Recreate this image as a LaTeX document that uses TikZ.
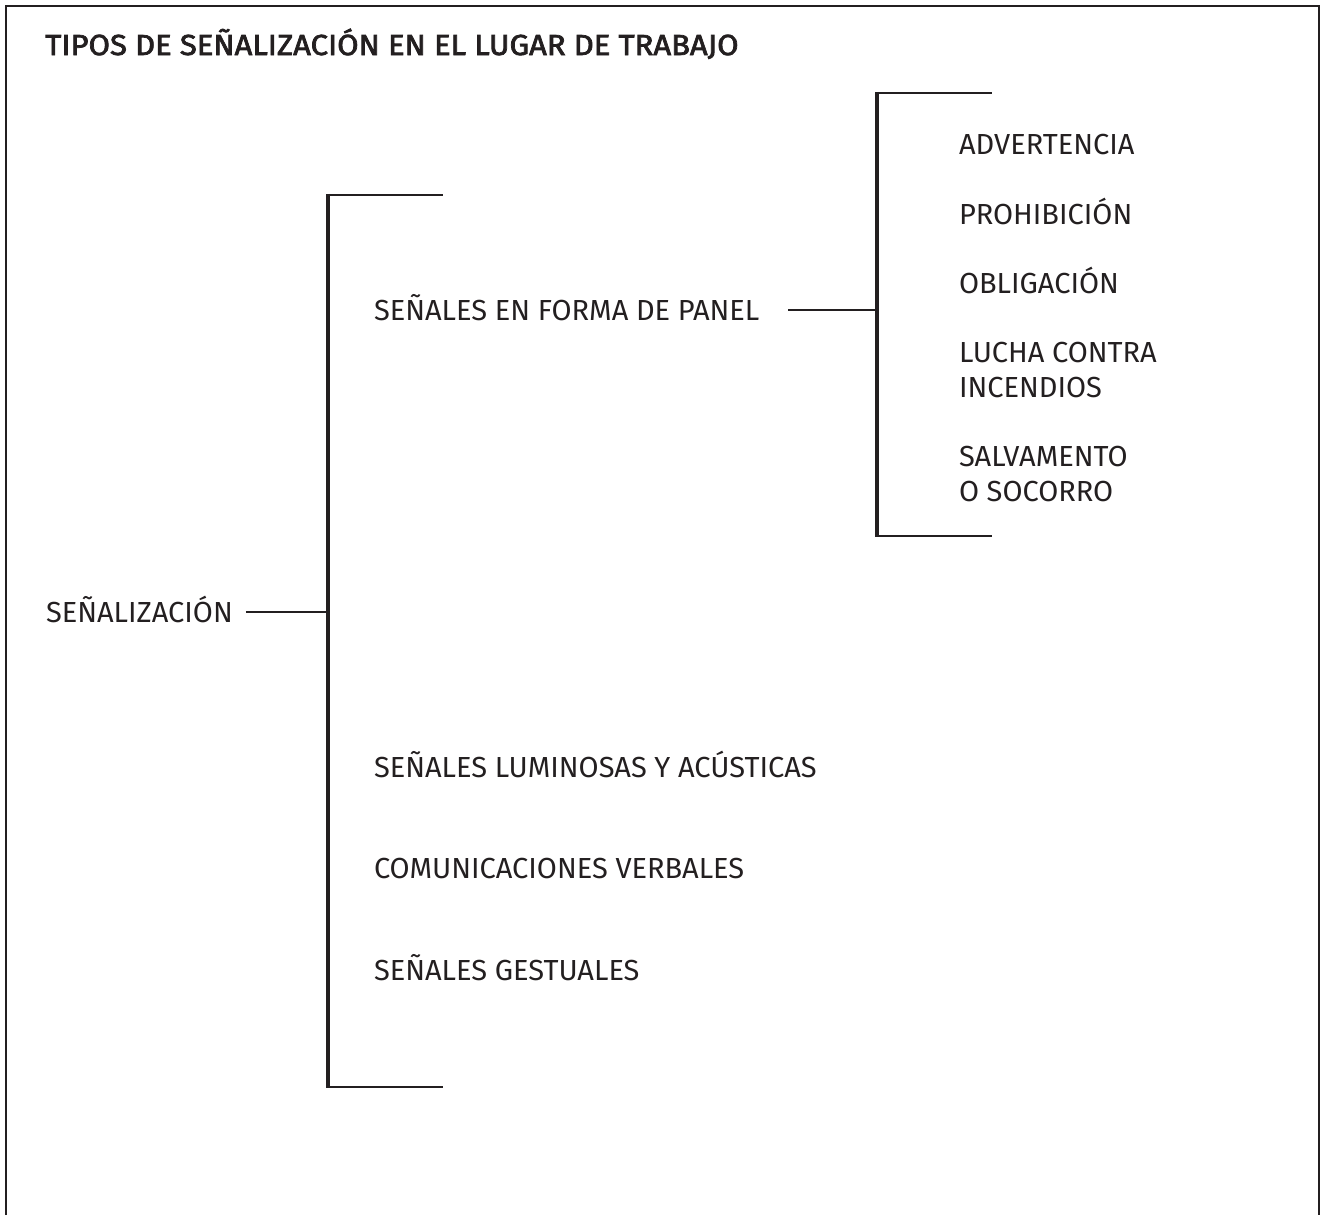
\documentclass[tikz,border=0pt]{standalone}
\usepackage{fontspec}
\setmainfont{Fira Sans}
\newfontfamily\headfont[FakeBold=2.5, FakeStretch=1.07]{Fira Sans}
\usetikzlibrary{positioning}
\definecolor{ink}{HTML}{231F20}
\tikzstyle{item} = [inner sep=0pt, outer sep=0pt, anchor=base west, text height=0.4cm, text depth=0pt, text=ink, font=\fontsize{16.5}{19.9}\selectfont]
\tikzstyle{item2} = [inner sep=0pt, outer sep=0pt, anchor=base west, align=left, text=ink, font=\fontsize{16.5}{19.9}\selectfont]
\tikzstyle{stem} = [line width=1.4pt, draw=ink]

\begin{document}
\begin{tikzpicture}[x=0.02cm, y=-0.02cm,
		head/.style={inner sep=0pt, anchor=base west, text=ink, font=\headfont\fontsize{16.5}{19.9}\selectfont},
		frame/.style={line width=0.85pt, draw=ink},
		spine/.style={line width=2.8pt, draw=ink, shorten <=-0.7pt, shorten >=-0.7pt},
		arm/.style={line width=1.5pt, draw=ink}]

	\useasboundingbox (0,0) rectangle (1321,1215);
	\draw[frame] (6,1215) -- (6,6) -- (1319,6) -- (1319,1215);

	\node (title) [head] at (45,55) {TIPOS DE SEÑALIZACIÓN EN EL LUGAR DE TRABAJO};

	\node (senal) [item] at (46,622) {SEÑALIZACIÓN};
	\node (panel) [item] at (374,320) {SEÑALES EN FORMA DE PANEL};
	\node (lumin) [item] at (374,777) {SEÑALES LUMINOSAS Y ACÚSTICAS};
	\node (verbal) [item] at (374,878) {COMUNICACIONES VERBALES};
	\node (gest) [item] at (374,980) {SEÑALES GESTUALES};

	\node (advert) [item] at (959,154) {ADVERTENCIA};
	\node (prohib) [item] at (959,224) {PROHIBICIÓN};
	\node (oblig) [item] at (959,293) {OBLIGACIÓN};
	\node (lucha) [item2] at (959,397) {LUCHA CONTRA\\INCENDIOS};
	\node (salva) [item2] at (959,501) {SALVAMENTO\\O SOCORRO};

	\coordinate (mainTop) at (328,195);
	\coordinate (mainBot) at (328,1087);
	\coordinate (subTop) at (877,93);
	\coordinate (subBot) at (877,536);

	\draw[spine] (mainTop) -- (mainBot);
	\draw[arm] (mainTop) -- ++(115,0);
	\draw[arm] (mainBot) -- ++(115,0);
	\draw[stem, shorten <=0.26cm] (senal.east) -- (senal.east -| mainTop);

	\draw[spine] (subTop) -- (subBot);
	\draw[arm] (subTop) -- ++(115,0);
	\draw[arm] (subBot) -- ++(115,0);
	\draw[stem, shorten <=0.58cm] (panel.east) -- (panel.east -| subTop);
\end{tikzpicture}
\end{document}
